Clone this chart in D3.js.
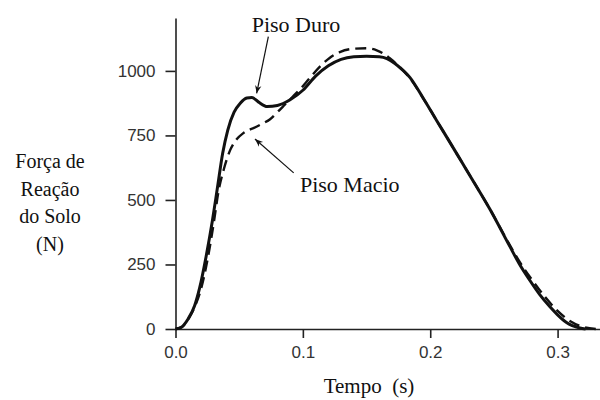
<!DOCTYPE html>
<html>
<head>
<meta charset="utf-8">
<script src="https://cdn.jsdelivr.net/npm/d3@7"></script>
<style>
  body { margin: 0; background: #fff; }
  svg { display: block; }
  .axis text { font-family: "Liberation Sans", Arial, sans-serif; font-size: 17px; fill: #333; }
  .axis path, .axis line { stroke: #222; stroke-width: 1.6; }
  .lbl { font-family: "Liberation Serif", "Times New Roman", serif; fill: #111; }
</style>
</head>
<body>
<div id="chart"></div>
<script>
// Piso Duro (solid)
var duroTempo = [0, 0.004, 0.010, 0.015, 0.019, 0.024, 0.029, 0.033, 0.037, 0.041, 0.046, 0.051, 0.056, 0.060, 0.065, 0.072, 0.080, 0.090, 0.100, 0.110, 0.120, 0.130, 0.140, 0.150, 0.160, 0.166, 0.172, 0.178, 0.184, 0.195, 0.205, 0.215, 0.225, 0.235, 0.247, 0.2625, 0.270, 0.278, 0.286, 0.294, 0.300, 0.307, 0.3175, 0.322];
var duroForca = [0, 5, 40, 90, 160, 280, 420, 550, 680, 770, 840, 876, 895, 897, 880, 862, 866, 888, 925, 980, 1020, 1045, 1055, 1057, 1055, 1048, 1030, 1005, 975, 890, 808, 727, 645, 563, 463, 320, 252, 190, 133, 86, 55, 25, 4, 0];

// Piso Macio (dashed)
var macioTempo = [0, 0.005, 0.010, 0.015, 0.020, 0.025, 0.030, 0.034, 0.038, 0.043, 0.048, 0.053, 0.058, 0.062, 0.068, 0.074, 0.080, 0.086, 0.092, 0.098, 0.105, 0.113, 0.121, 0.129, 0.138, 0.150, 0.158, 0.163, 0.168, 0.175, 0.184, 0.195, 0.205, 0.215, 0.225, 0.235, 0.247, 0.2625, 0.270, 0.280, 0.290, 0.300, 0.310, 0.320, 0.330];
var macioForca = [0, 8, 38, 85, 155, 265, 410, 540, 620, 694, 735, 758, 772, 780, 795, 812, 840, 870, 900, 930, 970, 1015, 1050, 1073, 1085, 1088, 1080, 1068, 1050, 1020, 972, 890, 808, 727, 645, 563, 463, 325, 262, 190, 125, 70, 30, 8, 0];

var xTicks = [0, 0.1, 0.2, 0.3];
var yTicks = [0, 250, 500, 750, 1000];
var yLabelLines = ["Força de", "Reação", "do Solo", "(N)"];
var xLabel = "Tempo\u00a0\u00a0(s)";

// anotações: texto, posição do texto, início e ponta da seta (tempo, força)
var annText = ["Piso Duro", "Piso Macio"];
var annPos = [[0.0598, 1150], [0.0977, 530]];
var annArrowFrom = [[0.0729, 1133], [0.0928, 605]];
var annArrowTo = [[0.0637, 913], [0.0624, 736]];

var width = 600, height = 400;
var svg = d3.select("#chart").append("svg")
	.attr("width", width)
	.attr("height", height);

var x = d3.scaleLinear().domain([0, 0.3333]).range([175.5, 600]);
var y = d3.scaleLinear().domain([0, 1205]).range([329, 18]);

svg.append("defs").append("marker")
	.attr("id", "head")
	.attr("viewBox", "0 0 10 10")
	.attr("refX", 10).attr("refY", 5)
	.attr("markerWidth", 11).attr("markerHeight", 8)
	.attr("markerUnits", "userSpaceOnUse")
	.attr("orient", "auto")
	.append("path")
	.attr("d", "M0,1 L10,5 L0,9 L3,5 Z")
	.attr("fill", "#111");

// axes
svg.append("g")
	.attr("class", "x axis")
	.attr("transform", "translate(0," + y(0) + ")")
	.call(d3.axisBottom(x).tickValues(xTicks).tickFormat(d3.format(".1f")).tickSize(9).tickSizeOuter(0).tickPadding(8));

svg.append("g")
	.attr("class", "y axis")
	.attr("transform", "translate(" + x(0) + ",0)")
	.call(d3.axisLeft(y).tickValues(yTicks).tickFormat(d3.format("d")).tickSize(10).tickSizeOuter(0).tickPadding(10));

// curves
var duro = duroTempo.map(function(t, i) { return [t, duroForca[i]]; });
var macio = macioTempo.map(function(t, i) { return [t, macioForca[i]]; });

var line = d3.line()
	.x(function(d) { return x(d[0]); })
	.y(function(d) { return y(d[1]); })
	.curve(d3.curveMonotoneX);

svg.append("path")
	.datum(macio)
	.attr("d", line)
	.attr("fill", "none")
	.attr("stroke", "#111")
	.attr("stroke-width", 2.4)
	.attr("stroke-dasharray", "11,6");

svg.append("path")
	.datum(duro)
	.attr("d", line)
	.attr("fill", "none")
	.attr("stroke", "#111")
	.attr("stroke-width", 3);

// annotations
for (var i = 0; i < annText.length; i++) {
	svg.append("text")
		.attr("class", "lbl")
		.attr("x", x(annPos[i][0]))
		.attr("y", y(annPos[i][1]))
		.attr("font-size", 22)
		.text(annText[i]);
	svg.append("line")
		.attr("x1", x(annArrowFrom[i][0])).attr("y1", y(annArrowFrom[i][1]))
		.attr("x2", x(annArrowTo[i][0])).attr("y2", y(annArrowTo[i][1]))
		.attr("stroke", "#111")
		.attr("stroke-width", 1.2)
		.attr("marker-end", "url(#head)");
}

// axis titles
svg.append("text")
	.attr("class", "lbl")
	.attr("x", 369)
	.attr("y", 393)
	.attr("text-anchor", "middle")
	.attr("font-size", 21)
	.text(xLabel);

var yl = svg.append("text")
	.attr("class", "lbl")
	.attr("text-anchor", "middle")
	.attr("font-size", 20);
yLabelLines.forEach(function(s, i) {
	yl.append("tspan")
		.attr("x", 50)
		.attr("y", 168 + i * 27.5)
		.text(s);
});
</script>
</body>
</html>
